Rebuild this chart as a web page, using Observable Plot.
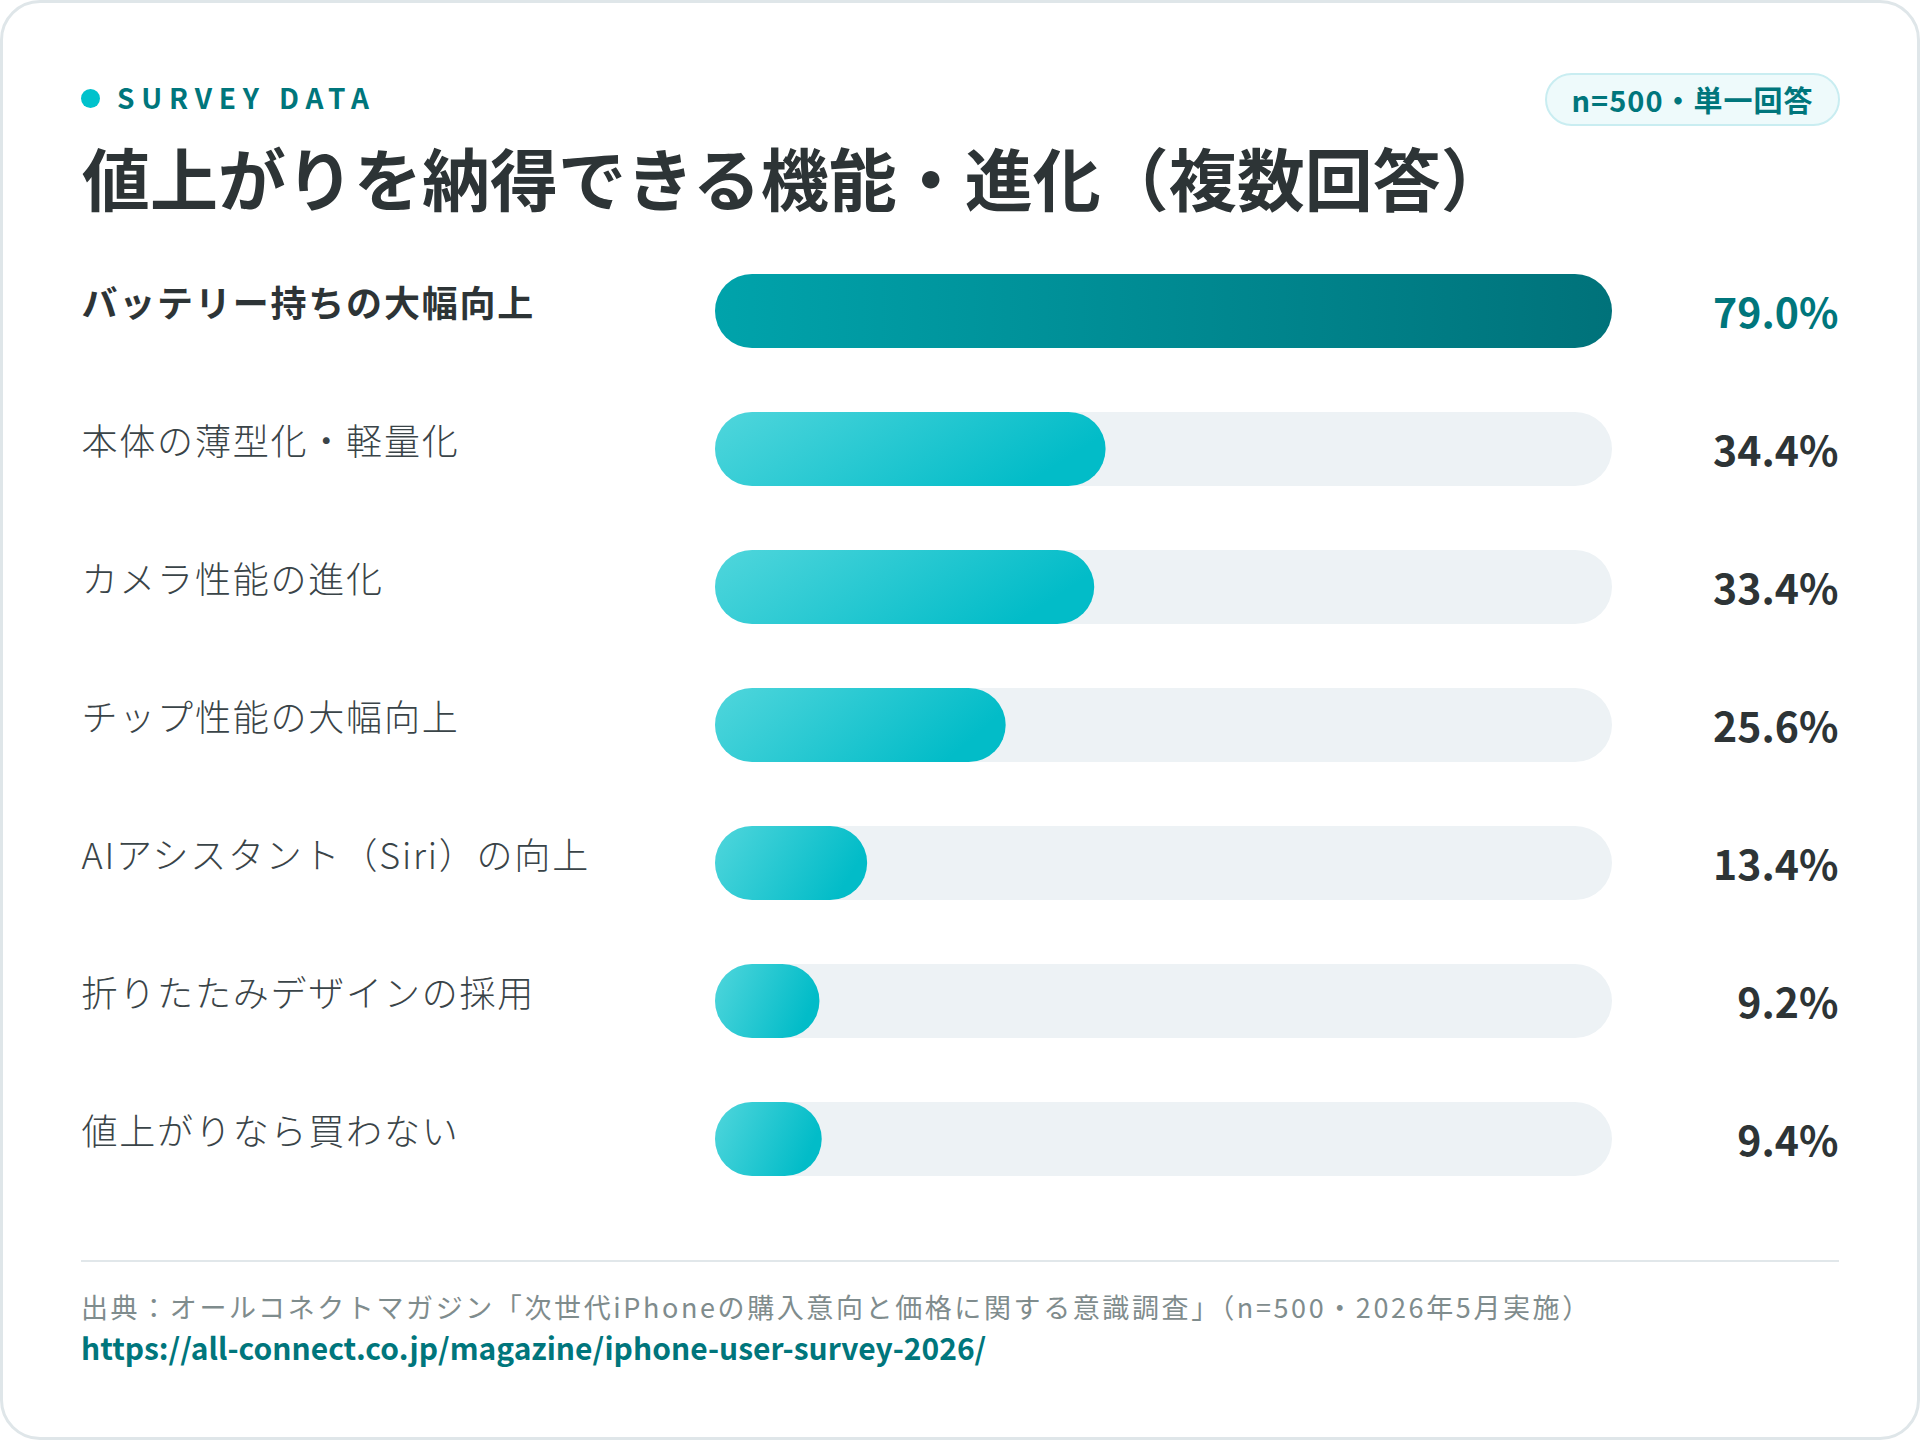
<!DOCTYPE html>
<html><head><meta charset="utf-8">
<script src="https://cdn.jsdelivr.net/npm/d3@7"></script>
<script src="https://cdn.jsdelivr.net/npm/@observablehq/plot@0.6"></script>
<style>
html,body{margin:0;padding:0;background:#fff;}
body{width:1920px;height:1440px;position:relative;overflow:hidden;font-family:"Noto Sans CJK JP","Noto Sans",sans-serif;}
.card{position:absolute;left:0;top:0;width:1920px;height:1440px;box-sizing:border-box;border:3px solid #dfe6e9;border-radius:40px;background:#fff;}
.abs{position:absolute;white-space:nowrap;line-height:1;}
#dot{left:80.5px;top:88.5px;width:19px;height:19px;border-radius:50%;background:#00c2cc;}
#kicker{left:117px;top:83px;font-size:28px;font-weight:700;letter-spacing:6.8px;color:#00767c;}
#title{left:82px;top:143px;font-size:68px;font-weight:700;color:#2d3436;}
#pill{left:1545px;top:73px;width:295px;height:53px;box-sizing:border-box;border:2px solid #c9edf1;border-radius:27px;background:#eefafb;color:#00767c;font-size:29px;font-weight:700;letter-spacing:1px;display:flex;align-items:center;justify-content:center;}
#rule{left:81px;top:1260px;width:1758px;height:2px;background:#e1e7ea;}
#source{left:81px;top:1293px;font-size:27px;color:#7f8c8d;letter-spacing:2.6px;}
#url{left:81px;top:1332px;font-size:30px;font-weight:700;color:#00767c;}
#chart{position:absolute;left:0;top:230px;}
</style>
</head>
<body>
<div class="card"></div>
<div id="dot" class="abs"></div>
<div id="kicker" class="abs">SURVEY DATA</div>
<div id="title" class="abs">値上がりを納得できる機能・進化（複数回答）</div>
<div id="pill" class="abs">n=500・単一回答</div>
<div id="chart"></div>
<div id="rule" class="abs"></div>
<div id="source" class="abs">出典：オールコネクトマガジン「次世代iPhoneの購入意向と価格に関する意識調査」（n=500・2026年5月実施）</div>
<div id="url" class="abs">https://all-connect.co.jp/magazine/iphone-user-survey-2026/</div>
<script>
const categories = [
  "バッテリー持ちの大幅向上",
  "本体の薄型化・軽量化",
  "カメラ性能の進化",
  "チップ性能の大幅向上",
  "AIアシスタント（Siri）の向上",
  "折りたたみデザインの採用",
  "値上がりなら買わない"
];
const values = [79.0, 34.4, 33.4, 25.6, 13.4, 9.2, 9.4];
const highlighted = ["バッテリー持ちの大幅向上"];

const rows = categories.map((c, i) => ({label: c, value: values[i], top: highlighted.includes(c), text: values[i].toFixed(1) + "%"}));
const maxV = d3.max(values);
const topRows = rows.filter(d => d.top);
const otherRows = rows.filter(d => !d.top);

const svg = Plot.plot({
  width: 1920,
  height: 1000,
  marginLeft: 81,
  marginRight: 82,
  marginTop: 0,
  marginBottom: 0,
  style: {background: "transparent", fontFamily: '"Noto Sans CJK JP", "Noto Sans", sans-serif', overflow: "visible"},
  x: {domain: [0, maxV], range: [715, 1612], axis: null},
  y: {type: "band", domain: categories, range: [12, 978], paddingInner: 64 / 138, paddingOuter: 32 / 138, round: false, axis: null},
  marks: [
    Plot.barX(rows, {x1: () => 0, x2: () => maxV, y: "label", fill: "#edf2f5", rx: 37}),
    Plot.barX(otherRows, {x1: () => 0, x2: "value", y: "label", fill: "url(#gradBar)", rx: 37}),
    Plot.barX(topRows, {x1: () => 0, x2: "value", y: "label", fill: "url(#gradTop)", rx: 37}),
    Plot.text(topRows, {y: "label", text: "label", frameAnchor: "left", textAnchor: "start", fontSize: 36, fontWeight: 700, fill: "#2d3436", dy: -6}),
    Plot.text(otherRows, {y: "label", text: "label", frameAnchor: "left", textAnchor: "start", fontSize: 36, fontWeight: 300, fill: "#3a4448", dy: -6}),
    Plot.text(topRows, {y: "label", text: "text", frameAnchor: "right", textAnchor: "end", fontSize: 41, fontWeight: 700, fill: "#00767c", dy: 3}),
    Plot.text(otherRows, {y: "label", text: "text", frameAnchor: "right", textAnchor: "end", fontSize: 41, fontWeight: 700, fill: "#2d3436", dy: 3})
  ]
});

d3.select(svg).selectAll("text")
  .filter(function() { return categories.includes(this.textContent); })
  .style("letter-spacing", "1.8px");

const defs = d3.select(svg).insert("defs", ":first-child");
const g1 = defs.append("linearGradient").attr("id", "gradBar").attr("x1", 0).attr("y1", 0).attr("x2", 1).attr("y2", 0.3);
g1.append("stop").attr("offset", "0%").attr("stop-color", "#50d6dc");
g1.append("stop").attr("offset", "100%").attr("stop-color", "#02bcc8");
const g2 = defs.append("linearGradient").attr("id", "gradTop").attr("x1", 0).attr("y1", 0).attr("x2", 1).attr("y2", 0);
g2.append("stop").attr("offset", "0%").attr("stop-color", "#00a3ab");
g2.append("stop").attr("offset", "100%").attr("stop-color", "#00727a");

document.getElementById("chart").appendChild(svg);
</script>
</body></html>
